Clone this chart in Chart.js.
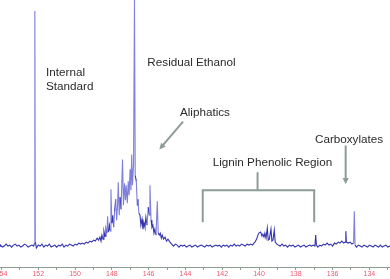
<!DOCTYPE html>
<html>
<head>
<meta charset="utf-8">
<script src="https://cdn.jsdelivr.net/npm/chart.js@4.4.1/dist/chart.umd.min.js"></script>
<style>
  html, body { margin: 0; padding: 0; background: #ffffff; }
  #spectrum { display: block; }
</style>
</head>
<body>
<canvas id="spectrum" width="390" height="279"></canvas>
<script>
"use strict";

// 31P spectrum: [shift ppm, intensity]
const leftBaseline = [
  [154.08, 0], [154.05, 1], [153.95, -1], [153.85, 0], [153.75, 2], [153.65, 0],
  [153.55, 1], [153.45, -1], [153.35, 1], [153.25, 2], [153.15, 0], [153.05, 1],
  [152.95, -1], [152.85, 0], [152.75, 2], [152.65, 1], [152.55, -1], [152.45, 0],
  [152.35, 1], [152.25, 0]
];
const internalStandard = [
  [152.21, 3], [152.185, 236], [152.16, 4], [152.10, -2]
];
const preAliphatic = [
  [152.0, 1], [151.9, 0], [151.8, 2], [151.7, -1], [151.6, 1], [151.5, 0],
  [151.4, 2], [151.3, -1], [151.2, 0], [151.1, 1], [151.0, -1], [150.9, 1],
  [150.8, 0], [150.7, 2], [150.6, -1], [150.5, 1], [150.4, 0], [150.3, 2],
  [150.2, 1], [150.1, 0], [150.0, 2], [149.9, 1], [149.8, 3], [149.7, 2],
  [149.6, 3], [149.5, 2], [149.4, 4], [149.3, 3], [149.2, 5], [149.1, 4],
  [149.0, 6], [148.9, 5], [148.8, 8], [148.72, 6]
];
const aliphatic = [
  [148.65, 9], [148.59, 5], [148.54, 11], [148.48, 7], [148.43, 15], [148.37, 10],
  [148.32, 17], [148.27, 13], [148.23, 30], [148.19, 14], [148.13, 21], [148.09, 15],
  [148.05, 57], [148.00, 23], [147.95, 31], [147.90, 19], [147.85, 35], [147.79, 47],
  [147.74, 26], [147.69, 41], [147.65, 64], [147.60, 31], [147.55, 49], [147.50, 37],
  [147.42, 87], [147.37, 41], [147.31, 63], [147.26, 46], [147.22, 61], [147.16, 43],
  [147.11, 65], [147.06, 51], [147.01, 77], [146.96, 56], [146.92, 92], [146.88, 61],
  [146.82, 81], [146.77, 247], [146.73, 71], [146.67, 65], [146.62, 41], [146.58, 47],
  [146.53, 33], [146.47, 31], [146.42, 21], [146.36, 27], [146.31, 17], [146.25, 23],
  [146.20, 19], [146.15, 29], [146.09, 21], [146.02, 39], [145.97, 31], [145.93, 61],
  [145.87, 26], [145.82, 19], [145.77, 21], [145.71, 13], [145.66, 17], [145.60, 11],
  [145.53, 45], [145.48, 13], [145.42, 11], [145.37, 13], [145.31, 8], [145.26, 11],
  [145.19, 7], [145.11, 9], [145.03, 5], [144.95, 7], [144.84, 4]
];
const midBaseline = [
  [144.75, 2], [144.65, 0], [144.55, 2], [144.45, 1], [144.35, -1], [144.25, 1],
  [144.15, 0], [144.05, 1], [143.95, -1], [143.85, 0], [143.75, 1], [143.65, -1],
  [143.55, 0], [143.45, 1], [143.35, -1], [143.25, 0], [143.15, 1], [143.05, 0],
  [142.95, -1], [142.85, 1], [142.75, 0], [142.65, 1], [142.55, -1], [142.45, 0],
  [142.35, 1], [142.25, 0], [142.15, 1], [142.05, -1], [141.95, 1], [141.85, 0],
  [141.75, 1], [141.65, -1], [141.55, 1], [141.45, 0], [141.35, 2], [141.25, 0],
  [141.15, 1], [141.05, 0], [140.95, 2], [140.85, 1], [140.75, 0], [140.65, 2],
  [140.55, 1], [140.45, 2], [140.35, 1], [140.28, 3]
];
const ligninPhenolic = [
  [140.22, 4], [140.13, 7], [140.06, 11], [140.01, 13], [139.91, 14], [139.84, 10],
  [139.79, 12], [139.73, 9], [139.68, 13], [139.62, 8], [139.55, 18], [139.50, 6],
  [139.44, 7], [139.35, 17], [139.30, 5], [139.24, 6], [139.17, 16], [139.12, 4],
  [139.03, 2]
];
const rightBaseline = [
  [138.95, 1], [138.85, 0], [138.75, 2], [138.65, 0], [138.55, 1], [138.45, -1],
  [138.35, 1], [138.25, 0], [138.15, 1], [138.05, -1], [137.95, 0], [137.85, 1],
  [137.75, -1], [137.65, 0], [137.55, 1], [137.45, -1], [137.35, 0], [137.25, 1],
  [137.15, 0], [137.05, 1], [136.96, 0], [136.92, 11], [136.88, 1], [136.80, -1],
  [136.70, 1], [136.60, 0], [136.50, 2], [136.40, 1], [136.30, 3], [136.20, 1],
  [136.10, 2], [136.00, 0], [135.90, 3], [135.80, 2], [135.70, 4], [135.60, 3],
  [135.50, 5], [135.40, 3], [135.31, 4], [135.28, 15], [135.25, 4], [135.15, 3],
  [135.05, 4], [134.95, 2], [134.86, 3], [134.82, 35], [134.78, 1], [134.70, -1],
  [134.60, 1], [134.50, 0], [134.40, -1], [134.30, 1], [134.20, 0], [134.10, -1],
  [134.00, 1], [133.90, 0], [133.80, -1], [133.70, 1], [133.60, 0], [133.50, -1],
  [133.40, 1], [133.30, -1], [133.20, 0], [133.10, 1], [133.00, -1], [132.88, 0]
];

// annotations, in data units
const labelTexts = ["Internal", "Standard", "Residual Ethanol", "Aliphatics",
                    "Lignin Phenolic Region", "Carboxylates"];
const labelPpm = [151.58, 151.58, 146.07, 144.30, 142.52, 136.96];
const labelInt = [174, 160, 184, 134, 84, 107];

const arrowFrom = [[144.13, 125], [135.29, 101]];
const arrowTo = [[145.42, 97], [135.29, 62]];

const bracketLeft = 143.06, bracketRight = 137.0, bracketStem = 140.08;
const bracketTop = 74, bracketBar = 56, bracketFoot = 24;

const shiftMin = 132.88, shiftMax = 154.08;

const spectrum = [].concat(leftBaseline, internalStandard, preAliphatic, aliphatic,
                           midBaseline, ligninPhenolic, rightBaseline)
  .map(p => ({x: p[0], y: p[1]}));

const annotationColor = "#8d9d95";

function drawArrow(ctx, x0, y0, x1, y1) {
  const ang = Math.atan2(y1 - y0, x1 - x0);
  const head = 7;
  ctx.beginPath();
  ctx.moveTo(x0, y0);
  ctx.lineTo(x1 - Math.cos(ang) * head * 0.8, y1 - Math.sin(ang) * head * 0.8);
  ctx.stroke();
  ctx.beginPath();
  ctx.moveTo(x1, y1);
  ctx.lineTo(x1 - head * Math.cos(ang - 0.45), y1 - head * Math.sin(ang - 0.45));
  ctx.lineTo(x1 - head * Math.cos(ang + 0.45), y1 - head * Math.sin(ang + 0.45));
  ctx.closePath();
  ctx.fill();
}

const annotations = {
  id: "annotations",
  afterDatasetsDraw(chart) {
    const ctx = chart.ctx;
    const xs = chart.scales.x, ys = chart.scales.y;
    ctx.save();
    ctx.fillStyle = "#2b2b2b";
    ctx.font = "11.7px 'Liberation Sans', Arial, sans-serif";
    ctx.textBaseline = "middle";
    ctx.textAlign = "left";
    for (let i = 0; i < labelTexts.length; i++)
      ctx.fillText(labelTexts[i], xs.getPixelForValue(labelPpm[i]),
                   ys.getPixelForValue(labelInt[i]));

    ctx.strokeStyle = annotationColor;
    ctx.fillStyle = annotationColor;
    ctx.lineWidth = 2;
    for (let i = 0; i < arrowFrom.length; i++) {
      drawArrow(ctx,
                xs.getPixelForValue(arrowFrom[i][0]), ys.getPixelForValue(arrowFrom[i][1]),
                xs.getPixelForValue(arrowTo[i][0]), ys.getPixelForValue(arrowTo[i][1]));
    }

    // bracket over the lignin phenolic region
    const bl = xs.getPixelForValue(bracketLeft);
    const br = xs.getPixelForValue(bracketRight);
    const bs = xs.getPixelForValue(bracketStem);
    const yBar = ys.getPixelForValue(bracketBar);
    ctx.beginPath();
    ctx.moveTo(bl, ys.getPixelForValue(bracketFoot));
    ctx.lineTo(bl, yBar);
    ctx.lineTo(br, yBar);
    ctx.lineTo(br, ys.getPixelForValue(bracketFoot));
    ctx.moveTo(bs, yBar);
    ctx.lineTo(bs, ys.getPixelForValue(bracketTop));
    ctx.stroke();
    ctx.restore();
  }
};

// steep peak flanks look paler in the original, the noise darker
function segmentColor(seg) {
  return Math.abs(seg.p1.parsed.y - seg.p0.parsed.y) > 12 ? "#7f7fdc" : "#3434b0";
}

const ctx = document.getElementById("spectrum").getContext("2d");
new Chart(ctx, {
  type: "line",
  data: {
    datasets: [{
      data: spectrum,
      borderColor: "#3434b0",
      borderWidth: 1.1,
      pointRadius: 0,
      tension: 0,
      fill: false,
      segment: { borderColor: segmentColor }
    }]
  },
  options: {
    responsive: false,
    animation: false,
    devicePixelRatio: 1,
    layout: { padding: 0 },
    plugins: { legend: { display: false }, tooltip: { enabled: false } },
    scales: {
      x: {
        type: "linear",
        reverse: true,
        min: shiftMin,
        max: shiftMax,
        afterBuildTicks: (scale) => {
          scale.ticks = scale.ticks.filter(t => Number.isInteger(t.value));
        },
        afterFit: (scale) => {
          scale.paddingLeft = 0;
          scale.paddingRight = 0;
        },
        border: { display: true, color: "#8e9c92", width: 1 },
        grid: { drawOnChartArea: false, drawTicks: true, tickLength: 3,
                color: "#8e9c92" },
        ticks: {
          stepSize: 1,
          includeBounds: false,
          autoSkip: false,
          maxRotation: 0,
          padding: 1,
          color: "#ee5a6e",
          font: { family: "'Liberation Sans', Arial, sans-serif", size: 7, lineHeight: 1 },
          callback: (v) => (v % 2 === 0 ? String(v) : "")
        }
      },
      y: {
        display: false,
        min: -21,
        max: 247
      }
    }
  },
  plugins: [annotations]
});
</script>
</body>
</html>
